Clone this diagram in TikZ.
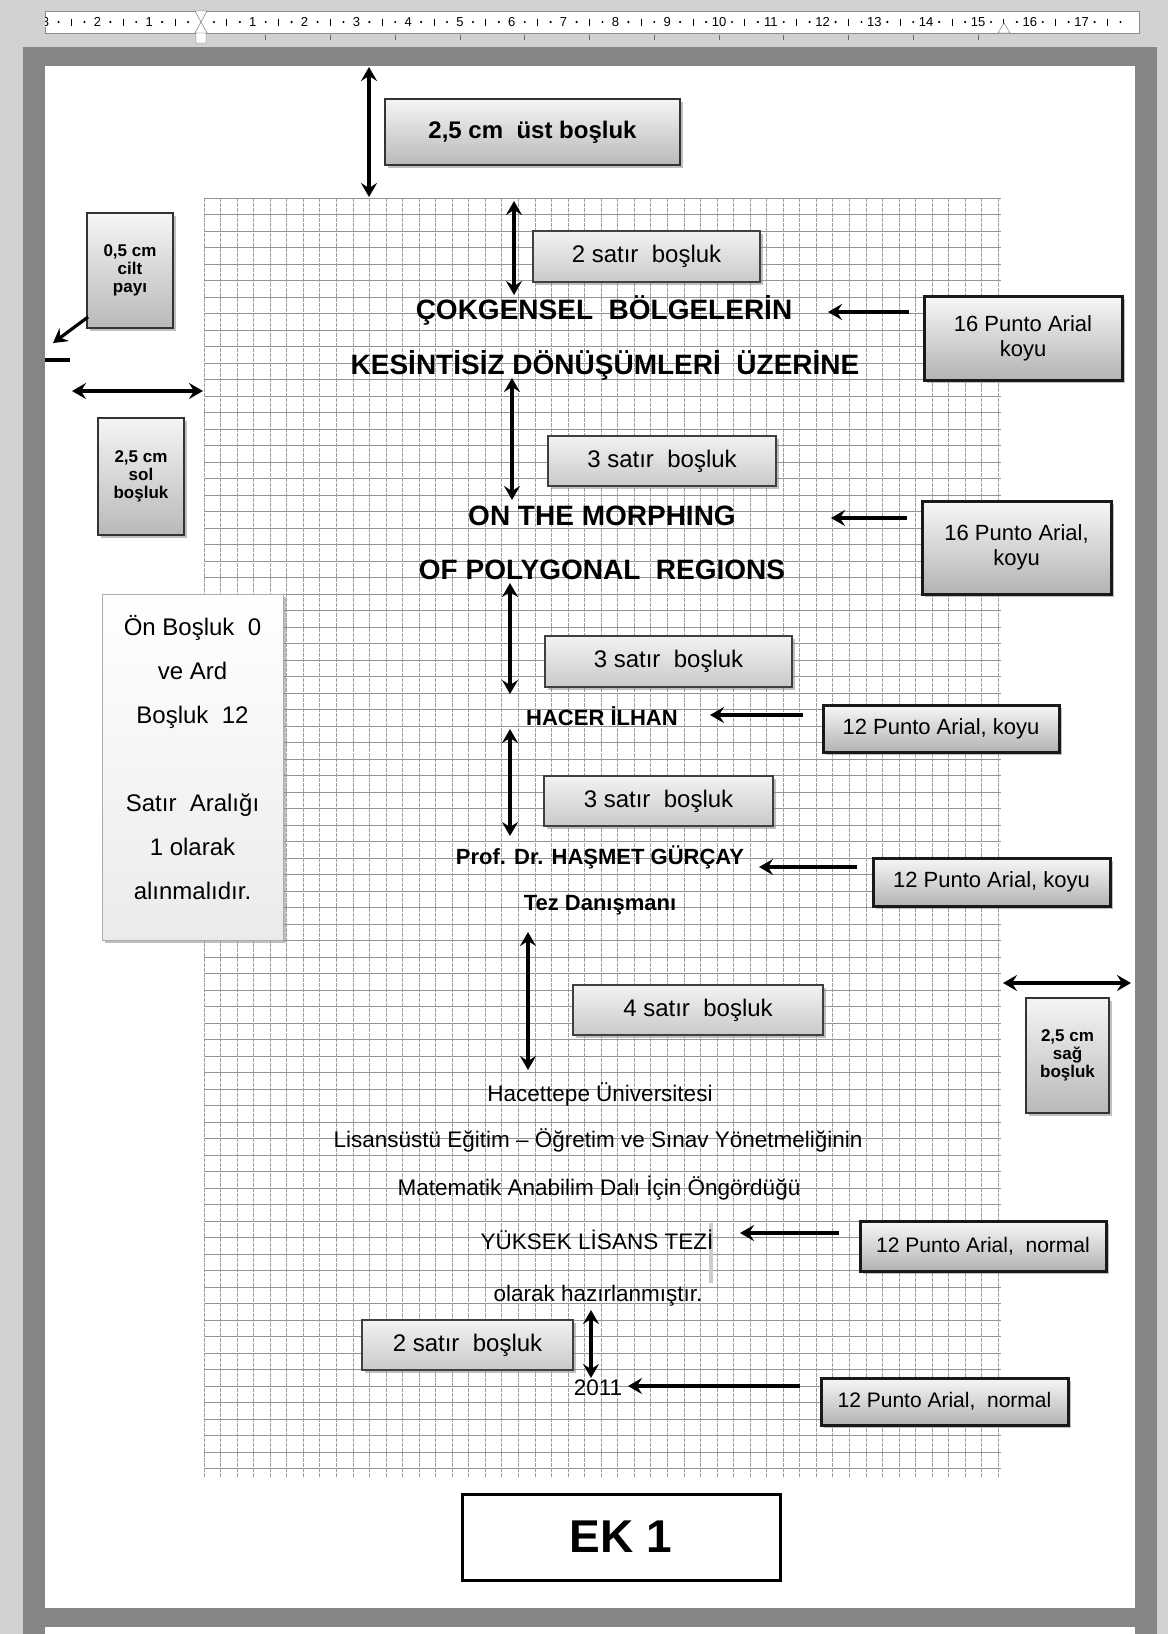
\documentclass[tikz,border=0pt]{standalone}
\usepackage{fontspec}
\setmainfont{Liberation Sans}
\usetikzlibrary{arrows.meta,shadows}

\begin{document}
\begin{tikzpicture}[x=1pt,y=-1pt,>={Stealth[length=14pt,width=16pt,inset=5pt]},
gap/.style={<->,line width=3.4pt},pointer/.style={->,line width=3.2pt},
gridh/.style={black!42,line width=1pt},gridv/.style={black!38,line width=0.9pt,dash pattern=on 4pt off 1pt},
cetvel/.style={font=\fontsize{13}{13}\selectfont,inner sep=0pt,fill=white},
shade/.style={drop shadow={shadow xshift=3pt,shadow yshift=-3pt,opacity=0.5}},
note/.style={shade,draw=black!90,line width=3pt,top color=gray!6,bottom color=gray!60,align=center,inner sep=0pt,font=\fontsize{22}{25}\selectfont},
satir/.style={shade,draw=black!75,line width=1.8pt,top color=gray!10,bottom color=gray!42,inner sep=0pt,font=\fontsize{24}{26}\selectfont},
margin/.style={shade,draw=black!80,line width=1.5pt,top color=gray!8,bottom color=gray!55,align=center,inner sep=0pt,font=\fontsize{17}{18}\selectfont\bfseries},
baslik/.style={font=\fontsize{28}{32}\selectfont\bfseries,inner sep=0pt},
isim/.style={font=\fontsize{22}{26}\selectfont\bfseries,inner sep=0pt},
metin/.style={font=\fontsize{22.5}{26}\selectfont,inner sep=0pt}]
\useasboundingbox (0,0) rectangle (1168,1634);
% page, frame and ruler
\fill[black!18] (0,0) rectangle (1168,1634);
\fill[black!48] (23,47) rectangle (1157,1634);
\fill[white] (45,66) rectangle (1135,1608);
\fill[white] (45,1627) rectangle (1135,1634);
\node[draw=black!45,fill=white,minimum width=1094pt,minimum height=22pt,inner sep=0pt] (ruler) at (592,22) {};
\begin{scope}
\clip (45,11) rectangle (1139,33);
\foreach \k in {-4,...,17}{
  \fill ({201+51.8*(\k+0.25)},22) circle (1.2);
  \fill ({201+51.8*(\k+0.75)},22) circle (1.2);
  \draw[line width=0.9pt] ({201+51.8*(\k+0.5)},18.5) -- ++(0,7);}
\foreach \k in {1,...,17} \node[cetvel] (r\k) at ({201+51.8*\k},22) {\k};
\foreach \k in {1,2,3} \node[cetvel] (l\k) at ({201-51.8*\k},22) {\k};
\end{scope}
\draw[fill=white,draw=black!60] (195,11) -- (207,11) -- (201,22) -- cycle (195,33) -- (207,33) -- (201,22) -- cycle (196,33) rectangle (206,43);
\draw[fill=white,draw=black!60] (998,33) -- (1010,33) -- (1004,23) -- cycle;
\foreach \k in {1,...,12} \draw[black!60,line width=1pt] ({201+64.75*\k},35) -- ++(0,5);
% grid
\foreach \j in {0,...,77} \draw[gridh] (204,{198+16.5*\j}) -- (1001,{198+16.5*\j});
\foreach \i in {0,...,48} \draw[gridv] ({204+16.55*\i},198) -- ({204+16.55*\i},1478);
\fill[gray!40] (709,1223) rectangle (713,1283);
% boxes
\node[margin,minimum width=295pt,minimum height=66pt,font=\fontsize{24}{26}\selectfont\bfseries] (ust) at (532.5,132) {2,5 cm\ \ üst boşluk};
\node[margin,minimum width=86pt,minimum height=115pt] (cilt) at (130,270.5) {0,5 cm\\cilt\\payı};
\node[margin,minimum width=86pt,minimum height=117pt] (sol) at (141,476.5) {2,5 cm\\sol\\boşluk};
\node[margin,minimum width=83pt,minimum height=115pt] (sag) at (1067.5,1055.5) {2,5 cm\\sağ\\boşluk};
\node[shade,draw=gray!65,line width=1pt,top color=white,bottom color=gray!16,minimum width=181pt,minimum height=346pt] (ard) at (192.5,767) {};
\node[align=center,inner sep=0pt,font=\fontsize{24}{44}\selectfont] (ardtext) at (192.5,758) {Ön Boşluk\ \ 0\\ve Ard\\Boşluk\ \ 12\\[44pt]Satır\ \ Aralığı\\1 olarak\\alınmalıdır.};
\node[satir,minimum width=227pt,minimum height=51pt] (b1) at (646.5,256.5) {2 satır\ \ boşluk};
\node[satir,minimum width=228pt,minimum height=50pt] (b2) at (662,461) {3 satır\ \ boşluk};
\node[satir,minimum width=247pt,minimum height=51pt] (b3) at (668.5,661.5) {3 satır\ \ boşluk};
\node[satir,minimum width=229pt,minimum height=50pt] (b4) at (658.5,801) {3 satır\ \ boşluk};
\node[satir,minimum width=250pt,minimum height=50pt] (b5) at (698,1010) {4 satır\ \ boşluk};
\node[satir,minimum width=211pt,minimum height=50pt] (b6) at (467.5,1345) {2 satır\ \ boşluk};
\node[note,minimum width=198pt,minimum height=84pt] (p1) at (1023,338) {16 Punto Arial\\koyu};
\node[note,minimum width=189pt,minimum height=93pt] (p2) at (1016.5,547.5) {16 Punto Arial,\\koyu};
\node[note,minimum width=236pt,minimum height=47pt] (p3) at (941,728.5) {12 Punto Arial, koyu};
\node[note,minimum width=237pt,minimum height=48pt] (p4) at (991.5,882) {12 Punto Arial, koyu};
\node[note,minimum width=246pt,minimum height=50pt,font=\fontsize{21}{24}\selectfont] (p5) at (983,1246) {12 Punto Arial,\ \ normal};
\node[note,minimum width=247pt,minimum height=47pt,font=\fontsize{21}{24}\selectfont] (p6) at (944.5,1401.5) {12 Punto Arial,\ \ normal};
\node[draw=black,line width=3pt,fill=white,minimum width=318pt,minimum height=86pt,inner sep=0pt,font=\fontsize{46}{50}\selectfont\bfseries] (ek) at (621,1537) {EK 1};
% texts of the page
\node[baslik] (t1) at (604,310) {ÇOKGENSEL\ \ BÖLGELERİN};
\node[baslik] (t2) at (605,365) {KESİNTİSİZ DÖNÜŞÜMLERİ\ \ ÜZERİNE};
\node[baslik] (t3) at (602,516) {ON THE MORPHING};
\node[baslik] (t4) at (602,570) {OF POLYGONAL\ \ REGIONS};
\node[isim] (yazar) at (602,716) {HACER İLHAN};
\node[isim] (hoca) at (600,857) {Prof. Dr. HAŞMET GÜRÇAY};
\node[isim] (tez) at (600,905) {Tez Danışmanı};
\node[metin] (m1) at (600,1094) {Hacettepe Üniversitesi};
\node[metin] (m2) at (598,1140) {Lisansüstü Eğitim – Öğretim ve Sınav Yönetmeliğinin};
\node[metin] (m3) at (599,1188) {Matematik Anabilim Dalı İçin Öngördüğü};
\node[metin] (m4) at (597,1240) {YÜKSEK LİSANS TEZİ};
\node[metin] (m5) at (598,1296) {olarak hazırlanmıştır.};
\node[metin] (yil) at (598,1388) {2011};
% arrows
\coordinate (ustA) at (369,67);\coordinate (ustB) at (369,197);
\coordinate (s1A) at (514,201);\coordinate (s1B) at (514,295);
\coordinate (s2A) at (512,378);\coordinate (s2B) at (512,500);
\coordinate (s3A) at (510,583);\coordinate (s3B) at (510,694);
\coordinate (s4A) at (510,729);\coordinate (s4B) at (510,836);
\coordinate (s5A) at (528,932);\coordinate (s5B) at (528,1070);
\coordinate (s6A) at (591,1310);\coordinate (s6B) at (591,1378);
\coordinate (solA) at (72,391);\coordinate (solB) at (203,391);
\coordinate (sagA) at (1003,983);\coordinate (sagB) at (1131,983);
\draw[gap] (ustA)--(ustB);\draw[gap] (s1A)--(s1B);\draw[gap] (s2A)--(s2B);
\draw[gap] (s3A)--(s3B);\draw[gap] (s4A)--(s4B);\draw[gap] (s5A)--(s5B);
\draw[gap] (s6A)--(s6B);\draw[gap] (solA)--(solB);\draw[gap] (sagA)--(sagB);
\coordinate (ciltA) at (88,317);\coordinate (ciltB) at (53,343);
\draw[pointer] (ciltA)--(ciltB);
\coordinate (pay1) at (45,360);\coordinate (pay2) at (70,360);
\draw[line width=3.5pt] (pay1)--(pay2);
\coordinate (k1) at (909,312);\coordinate (h1) at (828,312);
\coordinate (k2) at (907,518);\coordinate (h2) at (831,518);
\coordinate (k3) at (803,715);\coordinate (h3) at (710,715);
\coordinate (k4) at (857,867);\coordinate (h4) at (759,867);
\coordinate (k5) at (839,1233);\coordinate (h5) at (740,1233);
\coordinate (k6) at (800,1386);\coordinate (h6) at (628,1386);
\draw[pointer] (k1)--(h1);\draw[pointer] (k2)--(h2);\draw[pointer] (k3)--(h3);
\draw[pointer] (k4)--(h4);\draw[pointer] (k5)--(h5);\draw[pointer] (k6)--(h6);
\end{tikzpicture}
\end{document}
